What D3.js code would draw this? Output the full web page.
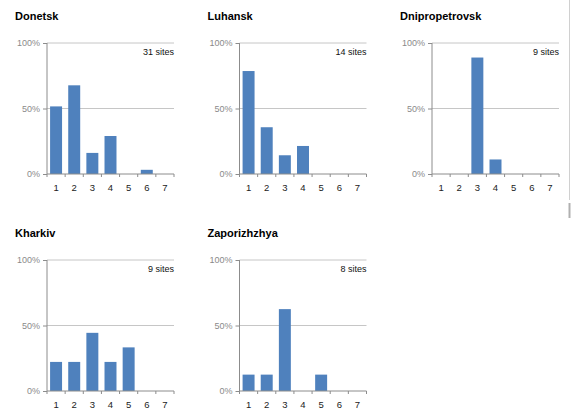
<!DOCTYPE html>
<html><head><meta charset="utf-8">
<script src="https://cdn.jsdelivr.net/npm/d3@7"></script>
<style>body{margin:0;background:#fff;} svg{display:block;}</style>
</head><body>
<script>
const categories = ["1","2","3","4","5","6","7"];
const yTicks = [0, 0.5, 1];
const regions = ["Donetsk","Luhansk","Dnipropetrovsk","Kharkiv","Zaporizhzhya"];
const siteCounts = [31, 14, 9, 9, 8];
const donetsk = [0.516, 0.677, 0.161, 0.290, 0, 0.032, 0];
const luhansk = [0.786, 0.357, 0.143, 0.214, 0, 0, 0];
const dnipropetrovsk = [0, 0, 0.889, 0.111, 0, 0, 0];
const kharkiv = [0.222, 0.222, 0.444, 0.222, 0.333, 0, 0];
const zaporizhzhya = [0.125, 0.125, 0.625, 0, 0.125, 0, 0];
const seriesValues = [donetsk, luhansk, dnipropetrovsk, kharkiv, zaporizhzhya];

const W = 576, H = 419;
const svg = d3.select("body").append("svg").attr("width", W).attr("height", H);

const colX = [47, 239.5, 432];
const rowY = [43, 260];
const pw = 127, ph = 131;
const font = "Liberation Sans, Arial, sans-serif";

regions.forEach((name, i) => {
  const ox = colX[i % 3], oy = rowY[Math.floor(i / 3)];
  const g = svg.append("g").attr("transform", `translate(${ox},${oy})`);
  const x = d3.scaleBand().domain(categories).range([0, pw]).paddingInner(0.34).paddingOuter(0.17);
  const xb = d3.scaleBand().domain(categories).range([0, pw]);
  const y = d3.scaleLinear().domain([0, 1]).range([ph, 0]);

  // title
  g.append("text").attr("x", -32).attr("y", -23).text(name)
    .attr("font-family", font).attr("font-weight", "bold").attr("font-size", 11).attr("fill", "#000");

  // gridlines
  g.selectAll(".grid").data(yTicks.filter(d => d > 0)).enter().append("line")
    .attr("x1", 0).attr("x2", pw).attr("y1", d => y(d)).attr("y2", d => y(d))
    .attr("stroke", "#c6c6c6").attr("stroke-width", 1);

  // bars
  g.selectAll(".bar").data(seriesValues[i].map((v, k) => ({c: categories[k], v})).filter(d => d.v > 0))
    .enter().append("rect")
    .attr("x", d => x(d.c)).attr("width", x.bandwidth())
    .attr("y", d => y(d.v)).attr("height", d => ph - y(d.v))
    .attr("fill", "#4f81bd");

  // y axis
  const ya = d3.axisLeft(y).tickValues(yTicks).tickFormat(d3.format(".0%")).tickSize(4).tickPadding(3);
  const yg = g.append("g").call(ya);
  yg.select(".domain").attr("stroke", "#8c8c8c").attr("d", `M0,0V${ph}`);
  yg.selectAll(".tick line").attr("stroke", "#8c8c8c");
  yg.selectAll("text").attr("font-family", font).attr("font-size", 9).attr("fill", "#8a8a8a");

  // x axis
  const xg = g.append("g").attr("transform", `translate(0,${ph})`);
  xg.append("line").attr("x1", 0).attr("x2", pw).attr("stroke", "#8c8c8c");
  xg.selectAll(".xt").data(categories.concat(["end"])).enter().append("line")
    .attr("x1", (d, k) => k * xb.step()).attr("x2", (d, k) => k * xb.step())
    .attr("y1", 0).attr("y2", 3).attr("stroke", "#8c8c8c");
  xg.selectAll(".xl").data(categories).enter().append("text")
    .attr("x", d => xb(d) + xb.bandwidth() / 2).attr("y", 17)
    .attr("text-anchor", "middle").text(d => d)
    .attr("font-family", font).attr("font-size", 9.5).attr("fill", "#222");

  // sites
  g.append("text").attr("x", pw).attr("y", 12).attr("text-anchor", "end")
    .text(siteCounts[i] + " sites")
    .attr("font-family", font).attr("font-size", 9).attr("fill", "#111");
});

// page edge artifact
svg.append("line").attr("x1", 569.5).attr("x2", 569.5).attr("y1", 0).attr("y2", 200).attr("stroke", "#d0d0d0");
svg.append("line").attr("x1", 569.5).attr("x2", 569.5).attr("y1", 203).attr("y2", 218).attr("stroke", "#b0b0b0").attr("stroke-width", 2);
</script>
</body></html>
